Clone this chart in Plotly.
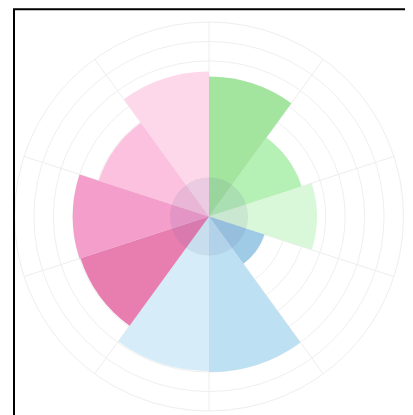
import plotly.graph_objects as go

# Data
thetas = [18, 54, 90, 126, 162, 198, 234, 270, 306, 342]
values = [7.2, 5.0, 5.55, 3.0, 8.0, 7.95, 6.95, 7.0, 5.96, 7.45]
colors = ["#a3e4a0", "#b5f0b5", "#d9f8d9", "#a0cbe6", "#bde0f3",
          "#d6ecf9", "#e87eb0", "#f49ecb", "#fbc1de", "#fdd8ea"]
inner_values = [2.0] * 10
grid_angles = [0, 36, 72, 108, 144, 180, 216, 252, 288, 324]

ALPHA = 0.9


def base_rgba(hex_color, a=ALPHA):
    h = hex_color.lstrip("#")
    rgb = [int(h[i:i + 2], 16) for i in (0, 2, 4)]
    base = [max(0, min(255, round((v - (1 - a) * 255) / a))) for v in rgb]
    return f"rgba({base[0]},{base[1]},{base[2]},{a})"


fig = go.Figure()
fig.add_trace(go.Barpolar(
    r=values, theta=thetas, width=[36] * 10,
    marker=dict(color=[base_rgba(c) for c in colors], line=dict(width=0)),
    hoverinfo="skip", showlegend=False,
))
fig.add_trace(go.Barpolar(
    r=inner_values, theta=thetas, width=[36] * 10,
    marker=dict(color="rgba(80,90,150,0.10)", line=dict(width=0)),
    hoverinfo="skip", showlegend=False,
))

fig.update_layout(
    width=405, height=407,
    margin=dict(l=6, r=9, t=14, b=4),
    paper_bgcolor="white",
    polar=dict(
        barmode="overlay",
        bgcolor="white",
        angularaxis=dict(rotation=90, direction="clockwise",
                         tickvals=grid_angles, showticklabels=False,
                         ticks="", gridcolor="#eeeeee", linecolor="#eeeeee",
                         showline=True),
        radialaxis=dict(range=[0, 10], dtick=1, showticklabels=False,
                        ticks="", showline=False, gridcolor="#efefef"),
    ),
    shapes=[dict(type="rect", xref="paper", yref="paper",
                 x0=0, x1=1.0205, y0=-0.1, y1=1.033,
                 line=dict(color="black", width=2))],
)

fig.write_html("out.html")
